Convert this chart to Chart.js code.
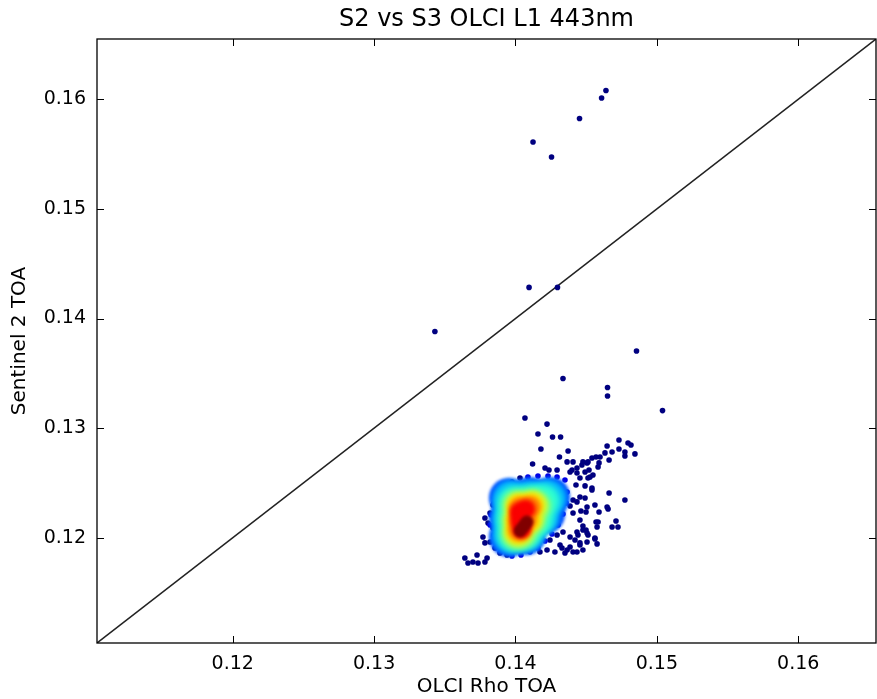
<!DOCTYPE html>
<html>
<head>
<meta charset="utf-8">
<script src="https://cdn.jsdelivr.net/npm/chart.js@4.4.1/dist/chart.umd.min.js"></script>
<style>
  html, body { margin: 0; padding: 0; background: #fff; }
  canvas { display: block; }
</style>
</head>
<body>
<canvas id="chart" width="877" height="699"></canvas>
<script>
// axis limits and ticks (same range on both axes, the 1:1 line runs corner to corner)
const axisRange = [0.1104, 0.1655];
const xTicks = [0.12, 0.13, 0.14, 0.15, 0.16];
const yTicks = [0.12, 0.13, 0.14, 0.15, 0.16];
const oneToOne = [0.1104, 0.1655];

// sparse matchups (lowest density)
const sparseDensity = 0;
const sparseX = [
  0.14640, 0.14609, 0.14453, 0.14124, 0.14255, 0.14096, 0.14297, 0.13430, 0.14856, 0.14336,
  0.14651, 0.14651, 0.15040, 0.14067, 0.14223, 0.14159, 0.14262, 0.14319, 0.14180, 0.14372,
  0.14311, 0.14121, 0.14209, 0.14237, 0.14294, 0.14732, 0.14796, 0.14817, 0.14648, 0.14683,
  0.14732, 0.14774, 0.14774, 0.14845, 0.14633, 0.14662, 0.14598, 0.14570, 0.14541, 0.14477,
  0.14506, 0.14470, 0.14591, 0.14584, 0.14520, 0.14548, 0.14527, 0.14492, 0.14435, 0.14400,
  0.14365, 0.14492, 0.14541, 0.14407, 0.14513, 0.14386, 0.14435, 0.14456, 0.14513, 0.14428,
  0.14492, 0.14435, 0.14562, 0.14506, 0.14584, 0.14456, 0.14407, 0.14662, 0.14774, 0.14648,
  0.14655, 0.14591, 0.14463, 0.14499, 0.14386, 0.14407, 0.14456, 0.14541, 0.14711, 0.14683,
  0.14725, 0.14570, 0.14577, 0.14477, 0.14499, 0.14506, 0.14435, 0.14442, 0.14386, 0.14421,
  0.14456, 0.14562, 0.14577, 0.14477, 0.14407, 0.14365, 0.14329, 0.14244, 0.14294, 0.14336,
  0.14477, 0.14513, 0.14315, 0.14386, 0.14456, 0.14506, 0.14279, 0.14350, 0.14435, 0.14223,
  0.14173, 0.14562, 0.13784, 0.13820, 0.13806, 0.13841, 0.13784, 0.13770, 0.13820, 0.13855,
  0.13890, 0.13940, 0.13728, 0.13699, 0.13735, 0.13784, 0.13799, 0.13642, 0.13664, 0.13841,
  0.13869, 0.13911, 0.13975, 0.14032
];
const sparseY = [
  0.16080, 0.16012, 0.15825, 0.15611, 0.15473, 0.14284, 0.14284, 0.13882, 0.13704, 0.13453,
  0.13371, 0.13293, 0.13160, 0.13092, 0.13037, 0.12946, 0.12919, 0.12919, 0.12810, 0.12792,
  0.12737, 0.12673, 0.12636, 0.12618, 0.12618, 0.12892, 0.12865, 0.12846, 0.12837, 0.12783,
  0.12810, 0.12783, 0.12746, 0.12765, 0.12774, 0.12710, 0.12737, 0.12737, 0.12728, 0.12692,
  0.12683, 0.12664, 0.12683, 0.12645, 0.12618, 0.12573, 0.12554, 0.12600, 0.12636, 0.12618,
  0.12692, 0.12473, 0.12454, 0.12692, 0.12692, 0.12600, 0.12591, 0.12545, 0.12545, 0.12481,
  0.12363, 0.12327, 0.12299, 0.12281, 0.12144, 0.12162, 0.12226, 0.12409, 0.12345, 0.12281,
  0.12263, 0.12235, 0.12244, 0.12235, 0.12290, 0.12345, 0.12372, 0.12436, 0.12153, 0.12098,
  0.12098, 0.12144, 0.12098, 0.12107, 0.12071, 0.12044, 0.12053, 0.12025, 0.12007, 0.11980,
  0.11953, 0.11989, 0.11944, 0.11888, 0.11870, 0.11888, 0.11906, 0.11980, 0.12025, 0.12053,
  0.12071, 0.12025, 0.11934, 0.11916, 0.11934, 0.11962, 0.11870, 0.11861, 0.11870, 0.11888,
  0.11870, 0.11998, 0.12180, 0.12226, 0.12135, 0.12089, 0.11953, 0.12007, 0.11962, 0.11906,
  0.11861, 0.11843, 0.11843, 0.11779, 0.11770, 0.11779, 0.11815, 0.11815, 0.11770, 0.12299,
  0.12390, 0.12463, 0.12509, 0.12545
];

// points on the rim of the dense cluster
const edgeDensity = 0.1;
const edgeX = [0.14088, 0.14159, 0.14230, 0.14294, 0.14350, 0.14365, 0.14358, 0.14336, 0.14301, 0.14258,
  0.14209, 0.14159, 0.14103, 0.14039, 0.13975, 0.13848, 0.13820, 0.13827, 0.13848, 0.13890, 0.13947];
const edgeY = [0.12554, 0.12563, 0.12563, 0.12554, 0.12527, 0.12418, 0.12317, 0.12217, 0.12117, 0.12034,
  0.11971, 0.11906, 0.11870, 0.11843, 0.11834, 0.12025, 0.12117, 0.12208, 0.12317, 0.12418, 0.12481];

// dense core, one group per density level (outer -> inner)
const coreDensity = [0.2, 0.3, 0.42, 0.55, 0.65, 0.75, 0.88, 1.0];
const coreX = [
  [0.13954, 0.14103, 0.14244, 0.13954, 0.14103, 0.14209, 0.13954, 0.14074],
  [0.13968, 0.14103, 0.14230, 0.13968, 0.14103, 0.14180, 0.13968, 0.14074],
  [0.13989, 0.14103, 0.14195, 0.13982, 0.14103, 0.14152, 0.13989, 0.14067],
  [0.14011, 0.14110, 0.14145, 0.14004, 0.14110, 0.14004, 0.14046],
  [0.14025, 0.14117, 0.14018, 0.14096, 0.14018],
  [0.14032, 0.14103, 0.14025, 0.14074, 0.14025],
  [0.14025, 0.14074, 0.14032, 0.14046],
  [0.14032, 0.14057, 0.14081]
];
const coreY = [
  [0.12363, 0.12372, 0.12372, 0.12180, 0.12190, 0.12217, 0.12007, 0.12025],
  [0.12354, 0.12354, 0.12363, 0.12180, 0.12180, 0.12199, 0.12025, 0.12044],
  [0.12317, 0.12326, 0.12335, 0.12171, 0.12171, 0.12171, 0.12025, 0.12044],
  [0.12299, 0.12308, 0.12290, 0.12162, 0.12162, 0.12034, 0.12044],
  [0.12290, 0.12299, 0.12162, 0.12162, 0.12053],
  [0.12272, 0.12281, 0.12162, 0.12162, 0.12071],
  [0.12235, 0.12262, 0.12153, 0.12080],
  [0.12062, 0.12103, 0.12144]
];

// styling
const FONT = 'DejaVu Sans';
const coreRadius = [20, 18.5, 17, 14, 12.5, 11, 9.5, 6.5];
const coreBlur = [1.5, 2.5, 3, 3, 2.5, 2, 2, 1.5];

function jet(t) {
  const c = v => Math.round(255 * Math.max(0, Math.min(1, v)));
  return `rgb(${c(1.5 - Math.abs(4 * t - 3))},${c(1.5 - Math.abs(4 * t - 2))},${c(1.5 - Math.abs(4 * t - 1))})`;
}

const toPoints = (xs, ys) => xs.map((x, i) => ({ x, y: ys[i] }));

// soften the stacked density levels
const softCore = {
  id: 'softCore',
  beforeDatasetDraw(chart, args) {
    const b = chart.data.datasets[args.index].blur;
    if (b) {
      chart.ctx.save();
      chart.ctx.filter = `blur(${b}px)`;
    }
  },
  afterDatasetDraw(chart, args) {
    if (chart.data.datasets[args.index].blur) chart.ctx.restore();
  }
};

// box frame with inward ticks on all four sides
const frame = {
  id: 'frame',
  afterDatasetsDraw(chart) {
    const { ctx, chartArea: a, scales } = chart;
    const len = 7;
    ctx.save();
    ctx.strokeStyle = '#000';
    ctx.lineWidth = 1.3;
    ctx.strokeRect(a.left, a.top, a.right - a.left, a.bottom - a.top);
    ctx.lineWidth = 1;
    ctx.beginPath();
    scales.x.ticks.forEach(t => {
      const px = Math.round(scales.x.getPixelForValue(t.value)) + 0.5;
      ctx.moveTo(px, a.bottom); ctx.lineTo(px, a.bottom - len);
      ctx.moveTo(px, a.top); ctx.lineTo(px, a.top + len);
    });
    scales.y.ticks.forEach(t => {
      const py = Math.round(scales.y.getPixelForValue(t.value)) + 0.5;
      ctx.moveTo(a.left, py); ctx.lineTo(a.left + len, py);
      ctx.moveTo(a.right, py); ctx.lineTo(a.right - len, py);
    });
    ctx.stroke();
    ctx.restore();
  }
};

const datasets = [
  {
    type: 'line',
    data: toPoints(oneToOne, oneToOne),
    borderColor: '#222',
    borderWidth: 1.5,
    pointRadius: 0,
    fill: false,
    order: 300
  },
  {
    data: toPoints(sparseX, sparseY),
    backgroundColor: jet(sparseDensity),
    pointRadius: 2.8,
    borderWidth: 0,
    order: 200
  },
  {
    data: toPoints(edgeX, edgeY),
    backgroundColor: jet(edgeDensity),
    pointRadius: 2.8,
    borderWidth: 0,
    order: 150
  },
  ...coreDensity.map((d, i) => ({
    data: toPoints(coreX[i], coreY[i]),
    backgroundColor: jet(d),
    pointRadius: coreRadius[i],
    borderWidth: 0,
    blur: coreBlur[i],
    order: 100 - i
  }))
];

new Chart(document.getElementById('chart'), {
  type: 'scatter',
  data: { datasets },
  options: {
    responsive: false,
    animation: false,
    events: [],
    layout: { autoPadding: false, padding: { left: 0, right: 1, top: 0, bottom: 0 } },
    plugins: {
      legend: { display: false },
      tooltip: { enabled: false },
      title: { display: false }
    },
    scales: {
      x: {
        type: 'linear',
        position: 'bottom',
        min: axisRange[0],
        max: axisRange[1],
        afterBuildTicks: s => { s.ticks = xTicks.map(v => ({ value: v })); },
        afterFit: s => { s.height = 56; s.paddingLeft = 0; s.paddingRight = 0; },
        grid: { display: false, drawTicks: false },
        border: { display: false },
        ticks: {
          color: '#000',
          padding: 10,
          maxRotation: 0,
          font: { family: FONT, size: 19 },
          callback: v => v.toFixed(2)
        },
        title: {
          display: true,
          text: 'OLCI Rho TOA',
          color: '#000',
          font: { family: FONT, size: 20 },
          padding: { top: 0, bottom: 0 }
        }
      },
      y: {
        type: 'linear',
        position: 'left',
        min: axisRange[0],
        max: axisRange[1],
        afterBuildTicks: s => { s.ticks = yTicks.map(v => ({ value: v })); },
        afterFit: s => { s.width = 97; s.paddingTop = 0; s.paddingBottom = 0; },
        grid: { display: false, drawTicks: false },
        border: { display: false },
        ticks: {
          color: '#000',
          padding: 11,
          font: { family: FONT, size: 19 },
          callback: v => v.toFixed(2)
        },
        title: {
          display: true,
          text: 'Sentinel 2 TOA',
          color: '#000',
          font: { family: FONT, size: 20 },
          padding: { top: 8, bottom: 0 }
        }
      },
      top: {
        type: 'linear',
        position: 'top',
        min: axisRange[0],
        max: axisRange[1],
        afterFit: s => { s.height = 39; s.paddingLeft = 0; s.paddingRight = 0; },
        grid: { display: false, drawTicks: false },
        border: { display: false },
        ticks: { display: false },
        title: {
          display: true,
          text: 'S2 vs S3 OLCI L1 443nm',
          color: '#000',
          font: { family: FONT, size: 24 },
          padding: { top: 5, bottom: 0 }
        }
      }
    }
  },
  plugins: [softCore, frame]
});
</script>
</body>
</html>
